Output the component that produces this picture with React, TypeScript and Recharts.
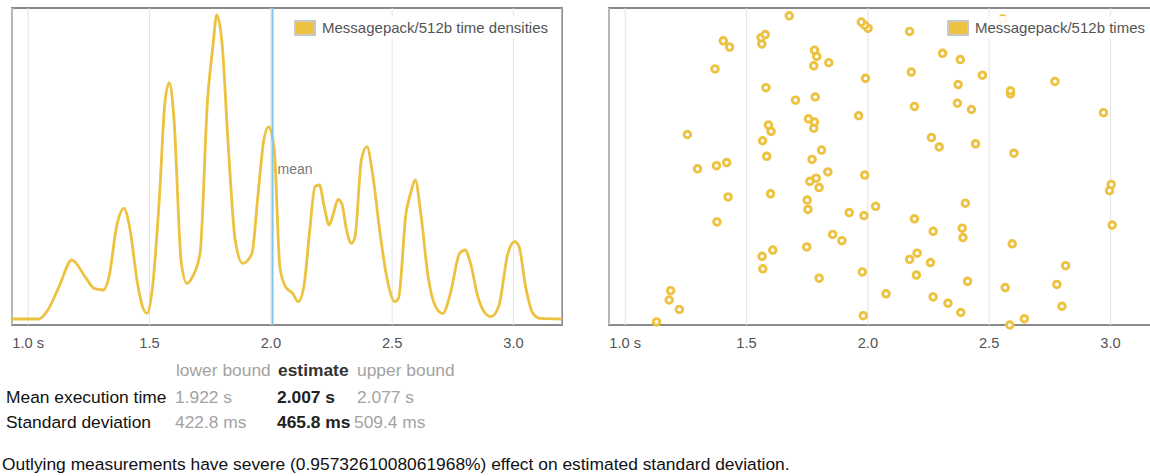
import React from 'react';
import { ComposedChart, Line, Scatter, XAxis, YAxis, CartesianGrid, ReferenceLine, Legend } from 'recharts';

const FONT = '"Liberation Sans", Arial, Helvetica, sans-serif';
const SERIES_COLOR = '#edc240';

const timeTicks = [1, 1.5, 2, 2.5, 3];
const tickLabels = ['1.0 s', '1.5', '2.0', '2.5', '3.0'];
const meanTime = 2.007;

const densityTimes = [
  0.933, 1.043, 1.081, 1.127, 1.18, 1.234, 1.272, 1.31, 1.333, 1.364, 1.394, 1.42, 1.448, 1.471, 1.49,
  1.509, 1.54, 1.563, 1.581, 1.6, 1.631, 1.654, 1.677, 1.708, 1.739, 1.761, 1.777, 1.8, 1.823, 1.853,
  1.884, 1.922, 1.945, 1.971, 1.991, 2.014, 2.037, 2.06, 2.09, 2.113, 2.136, 2.159, 2.182, 2.2, 2.22,
  2.24, 2.258, 2.277, 2.292, 2.312, 2.332, 2.347, 2.373, 2.396, 2.419, 2.45, 2.48, 2.511, 2.526, 2.557,
  2.576, 2.595, 2.618, 2.648, 2.679, 2.709, 2.74, 2.778, 2.8, 2.823, 2.853, 2.884, 2.908, 2.939, 2.977,
  3.005, 3.023, 3.05, 3.08, 3.11, 3.2,
];
const densityValues = [
  0, 0, 0.045, 0.162, 0.295, 0.212, 0.153, 0.145, 0.212, 0.462, 0.553, 0.445, 0.195, 0.062, 0.028,
  0.128, 0.595, 1.078, 1.182, 1.012, 0.278, 0.178, 0.212, 0.328, 1.095, 1.362, 1.52, 1.362, 0.895, 0.395,
  0.278, 0.328, 0.595, 0.895, 0.962, 0.845, 0.262, 0.162, 0.128, 0.087, 0.162, 0.428, 0.662, 0.67, 0.562,
  0.47, 0.528, 0.598, 0.578, 0.445, 0.378, 0.412, 0.795, 0.862, 0.728, 0.428, 0.195, 0.087, 0.103, 0.528,
  0.628, 0.695, 0.528, 0.212, 0.062, 0.028, 0.128, 0.328, 0.345, 0.278, 0.112, 0.028, 0.012, 0.062, 0.328,
  0.387, 0.362, 0.162, 0.028, 0.003, 0,
];

// measured time of each sample, in sample order (index 0 .. 99)
const sampleTimes = [
  2.585, 1.129, 2.645, 1.981, 2.383, 1.223, 2.8, 2.33, 1.181, 2.269,
  2.075, 1.187, 2.566, 2.779, 2.411, 1.799, 2.2, 1.977, 1.567, 2.815,
  2.258, 2.172, 1.564, 2.203, 1.608, 1.748, 2.595, 1.893, 2.392, 1.855,
  2.269, 2.389, 3.007, 1.378, 2.192, 1.984, 1.923, 1.753, 2.032, 2.402,
  1.75, 1.424, 1.599, 2.996, 1.799, 3.003, 1.761, 1.787, 1.987, 1.835,
  1.298, 1.376, 1.418, 1.77, 1.583, 2.602, 1.809, 2.294, 2.444, 1.566,
  2.262, 1.256, 1.601, 1.777, 1.59, 1.78, 1.755, 1.962, 2.971, 2.427,
  2.192, 2.369, 1.702, 1.783, 2.588, 2.588, 1.58, 2.372, 2.771, 1.99,
  2.472, 2.179, 1.37, 1.777, 1.839, 2.381, 1.789, 2.308, 1.78, 1.43,
  1.563, 1.404, 1.56, 1.577, 2.172, 2.001, 1.987, 1.973, 2.556, 1.676,
];

const tableHeaders = ['lower bound', 'estimate', 'upper bound'];
const tableRowLabels = ['Mean execution time', 'Standard deviation'];
const tableLower = ['1.922 s', '422.8 ms'];
const tableEstimate = ['2.007 s', '465.8 ms'];
const tableUpper = ['2.077 s', '509.4 ms'];
const footerText = 'Outlying measurements have severe (0.9573261008061968%) effect on estimated standard deviation.';

const densityData = densityTimes.map((t, k) => ({ t, d: densityValues[k] }));
const sampleData = sampleTimes.map((t, k) => ({ t, i: k }));

const TimeTick = (props: any) => {
  const { x, payload } = props;
  const idx = timeTicks.indexOf(payload.value);
  return (
    <text x={x} y={347.6} textAnchor="middle" fontSize={14.7} fill="#545454" fontFamily={FONT}>
      {idx >= 0 ? tickLabels[idx] : payload.value}
    </text>
  );
};

const LegendBox = (label: string) => () => (
  <div
    style={{
      display: 'flex',
      alignItems: 'center',
      background: 'rgba(255,255,255,0.85)',
      padding: '3px 4px',
      fontFamily: FONT,
      whiteSpace: 'nowrap',
    }}
  >
    <div style={{ border: '2px solid #c8c8c8', width: 18, height: 12, background: SERIES_COLOR }} />
    <span style={{ marginLeft: 6, fontSize: 15, color: '#545454', lineHeight: '17px' }}>{label}</span>
  </div>
);

const MeanLabel = (props: any) => {
  const vb = props.viewBox || {};
  return (
    <text x={(vb.x || 0) + 5} y={174} fontSize={14} fill="#7a7a7a" fontFamily={FONT}>
      mean
    </text>
  );
};

const SamplePoint = (props: any) => {
  const { cx, cy } = props;
  if (cx == null || cy == null) return null;
  return <circle cx={cx} cy={cy} r={3.3} fill="#ffffff" stroke={SERIES_COLOR} strokeWidth={2.9} />;
};

const frameStyle = (left: number): React.CSSProperties => ({
  position: 'absolute',
  left,
  top: 7,
  width: 552,
  height: 319,
  boxSizing: 'border-box',
  border: '2px solid #8a8a8a',
});

const textStyle = (left: number, top: number, color: string, bold = false): React.CSSProperties => ({
  position: 'absolute',
  left,
  top,
  fontSize: 17.4,
  lineHeight: '17.4px',
  color,
  fontWeight: bold ? 'bold' : 'normal',
  whiteSpace: 'nowrap',
  fontFamily: FONT,
});

const PAD_L = 12;
const PLOT_W = 550;
const CHART_H = 360;
const X_DOMAIN: [number, number] = [0.933, 3.2];
const legendWrapper: React.CSSProperties = {
  position: 'absolute',
  top: 16,
  right: 10,
  left: 'auto',
  bottom: 'auto',
  width: 'auto',
  height: 'auto',
};

export default function App() {
  const rowTops = [388.5, 413.5];
  return (
    <div
      style={{
        position: 'absolute',
        left: 0,
        top: 0,
        width: 1150,
        height: 476,
        overflow: 'hidden',
        background: '#ffffff',
        fontFamily: FONT,
      }}
    >
      <div style={frameStyle(11)} />
      <div style={{ position: 'absolute', left: 12 - PAD_L, top: 0 }}>
        <ComposedChart
          width={PLOT_W + PAD_L}
          height={CHART_H}
          data={densityData}
          margin={{ top: 8, right: 0, bottom: 0, left: PAD_L }}
        >
          <CartesianGrid vertical horizontal={false} stroke="#e3e3e3" strokeWidth={1} />
          <XAxis
            dataKey="t"
            type="number"
            domain={X_DOMAIN}
            ticks={timeTicks}
            interval={0}
            height={35}
            tick={<TimeTick />}
            tickLine={false}
            axisLine={false}
            allowDataOverflow
          />
          <YAxis hide type="number" domain={[-0.03, 1.555]} allowDataOverflow />
          <Line
            dataKey="d"
            type="monotone"
            stroke={SERIES_COLOR}
            strokeWidth={2.8}
            dot={false}
            activeDot={false}
            isAnimationActive={false}
          />
          <ReferenceLine x={meanTime} stroke="#80c8ec" strokeWidth={2} label={<MeanLabel />} />
          <Legend
            layout="horizontal"
            verticalAlign="middle"
            align="center"
            content={LegendBox('Messagepack/512b time densities')}
            wrapperStyle={legendWrapper}
          />
        </ComposedChart>
      </div>

      <div style={frameStyle(608)} />
      <div style={{ position: 'absolute', left: 609 - PAD_L, top: 0 }}>
        <ComposedChart
          width={PLOT_W + PAD_L}
          height={CHART_H}
          margin={{ top: 8, right: 0, bottom: 0, left: PAD_L }}
        >
          <CartesianGrid vertical horizontal={false} stroke="#e3e3e3" strokeWidth={1} />
          <XAxis
            dataKey="t"
            type="number"
            domain={X_DOMAIN}
            ticks={timeTicks}
            interval={0}
            height={35}
            tick={<TimeTick />}
            tickLine={false}
            axisLine={false}
          />
          <YAxis hide dataKey="i" type="number" domain={[0, 101.5]} />
          <Scatter
            data={sampleData}
            dataKey="i"
            fill={SERIES_COLOR}
            shape={<SamplePoint />}
            isAnimationActive={false}
          />
          <Legend
            layout="horizontal"
            verticalAlign="middle"
            align="center"
            content={LegendBox('Messagepack/512b times')}
            wrapperStyle={legendWrapper}
          />
        </ComposedChart>
      </div>

      <div style={textStyle(176, 361.5, '#a3a3a3')}>{tableHeaders[0]}</div>
      <div style={textStyle(278, 361.5, '#333333', true)}>{tableHeaders[1]}</div>
      <div style={textStyle(357, 361.5, '#a3a3a3')}>{tableHeaders[2]}</div>
      {tableRowLabels.map((lbl, r) => (
        <React.Fragment key={lbl}>
          <div style={textStyle(6, rowTops[r], '#111111')}>{lbl}</div>
          <div style={textStyle(175, rowTops[r], '#a3a3a3')}>{tableLower[r]}</div>
          <div style={textStyle(277, rowTops[r], '#222222', true)}>{tableEstimate[r]}</div>
          <div style={textStyle(r === 0 ? 357 : 354, rowTops[r], '#a3a3a3')}>{tableUpper[r]}</div>
        </React.Fragment>
      ))}
      <div style={textStyle(2, 455.5, '#111111')}>{footerText}</div>
    </div>
  );
}
